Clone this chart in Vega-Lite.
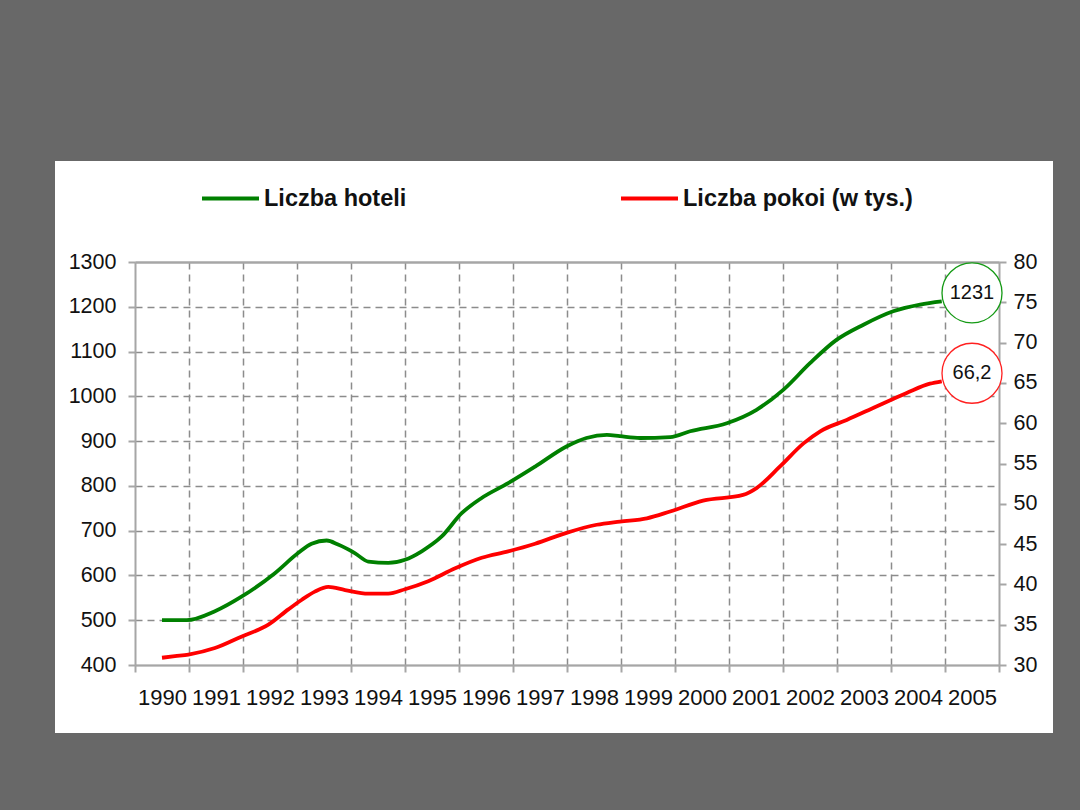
{
  "$schema": "https://vega.github.io/schema/vega-lite/v6.json",
  "width": 998,
  "height": 572,
  "autosize": {"type": "none"},
  "padding": {"left": 55, "top": 161, "right": 27, "bottom": 77},
  "background": "#686868",
  "config": {
    "view": {"fill": "white", "stroke": null},
    "font": "Liberation Sans"
  },
  "datasets": {
    "hotele": [
      {"rok": 1990.0, "wartosc": 500, "seria": "Liczba hoteli"},
      {"rok": 1990.46, "wartosc": 500, "seria": "Liczba hoteli"},
      {"rok": 1990.98, "wartosc": 520, "seria": "Liczba hoteli"},
      {"rok": 1991.48, "wartosc": 553, "seria": "Liczba hoteli"},
      {"rok": 1992.09, "wartosc": 605, "seria": "Liczba hoteli"},
      {"rok": 1992.52, "wartosc": 650, "seria": "Liczba hoteli"},
      {"rok": 1992.77, "wartosc": 671, "seria": "Liczba hoteli"},
      {"rok": 1993.05, "wartosc": 678, "seria": "Liczba hoteli"},
      {"rok": 1993.26, "wartosc": 669, "seria": "Liczba hoteli"},
      {"rok": 1993.57, "wartosc": 650, "seria": "Liczba hoteli"},
      {"rok": 1993.82, "wartosc": 631, "seria": "Liczba hoteli"},
      {"rok": 1994.19, "wartosc": 628, "seria": "Liczba hoteli"},
      {"rok": 1994.5, "wartosc": 635, "seria": "Liczba hoteli"},
      {"rok": 1994.81, "wartosc": 654, "seria": "Liczba hoteli"},
      {"rok": 1995.18, "wartosc": 687, "seria": "Liczba hoteli"},
      {"rok": 1995.55, "wartosc": 739, "seria": "Liczba hoteli"},
      {"rok": 1995.92, "wartosc": 773, "seria": "Liczba hoteli"},
      {"rok": 1996.41, "wartosc": 806, "seria": "Liczba hoteli"},
      {"rok": 1996.91, "wartosc": 843, "seria": "Liczba hoteli"},
      {"rok": 1997.49, "wartosc": 888, "seria": "Liczba hoteli"},
      {"rok": 1997.86, "wartosc": 907, "seria": "Liczba hoteli"},
      {"rok": 1998.24, "wartosc": 914, "seria": "Liczba hoteli"},
      {"rok": 1998.48, "wartosc": 911, "seria": "Liczba hoteli"},
      {"rok": 1998.85, "wartosc": 907, "seria": "Liczba hoteli"},
      {"rok": 1999.41, "wartosc": 909, "seria": "Liczba hoteli"},
      {"rok": 1999.78, "wartosc": 922, "seria": "Liczba hoteli"},
      {"rok": 2000.46, "wartosc": 940, "seria": "Liczba hoteli"},
      {"rok": 2001.01, "wartosc": 970, "seria": "Liczba hoteli"},
      {"rok": 2001.51, "wartosc": 1015, "seria": "Liczba hoteli"},
      {"rok": 2002.0, "wartosc": 1074, "seria": "Liczba hoteli"},
      {"rok": 2002.49, "wartosc": 1126, "seria": "Liczba hoteli"},
      {"rok": 2002.99, "wartosc": 1160, "seria": "Liczba hoteli"},
      {"rok": 2003.54, "wartosc": 1190, "seria": "Liczba hoteli"},
      {"rok": 2004.04, "wartosc": 1205, "seria": "Liczba hoteli"},
      {"rok": 2004.44, "wartosc": 1212, "seria": "Liczba hoteli"}
    ],
    "pokoje": [
      {"rok": 1990.0, "wartosc": 30.9, "seria": "Liczba pokoi (w tys.)"},
      {"rok": 1990.24, "wartosc": 31.1, "seria": "Liczba pokoi (w tys.)"},
      {"rok": 1990.49, "wartosc": 31.3, "seria": "Liczba pokoi (w tys.)"},
      {"rok": 1990.98, "wartosc": 32.1, "seria": "Liczba pokoi (w tys.)"},
      {"rok": 1991.48, "wartosc": 33.55, "seria": "Liczba pokoi (w tys.)"},
      {"rok": 1991.97, "wartosc": 35.0, "seria": "Liczba pokoi (w tys.)"},
      {"rok": 1992.34, "wartosc": 36.9, "seria": "Liczba pokoi (w tys.)"},
      {"rok": 1992.59, "wartosc": 38.1, "seria": "Liczba pokoi (w tys.)"},
      {"rok": 1992.83, "wartosc": 39.1, "seria": "Liczba pokoi (w tys.)"},
      {"rok": 1993.08, "wartosc": 39.7, "seria": "Liczba pokoi (w tys.)"},
      {"rok": 1993.39, "wartosc": 39.3, "seria": "Liczba pokoi (w tys.)"},
      {"rok": 1993.82, "wartosc": 38.85, "seria": "Liczba pokoi (w tys.)"},
      {"rok": 1994.19, "wartosc": 38.85, "seria": "Liczba pokoi (w tys.)"},
      {"rok": 1994.5, "wartosc": 39.4, "seria": "Liczba pokoi (w tys.)"},
      {"rok": 1994.93, "wartosc": 40.4, "seria": "Liczba pokoi (w tys.)"},
      {"rok": 1995.43, "wartosc": 42.0, "seria": "Liczba pokoi (w tys.)"},
      {"rok": 1995.92, "wartosc": 43.3, "seria": "Liczba pokoi (w tys.)"},
      {"rok": 1996.41, "wartosc": 44.1, "seria": "Liczba pokoi (w tys.)"},
      {"rok": 1996.91, "wartosc": 45.05, "seria": "Liczba pokoi (w tys.)"},
      {"rok": 1997.49, "wartosc": 46.4, "seria": "Liczba pokoi (w tys.)"},
      {"rok": 1998.05, "wartosc": 47.4, "seria": "Liczba pokoi (w tys.)"},
      {"rok": 1998.48, "wartosc": 47.8, "seria": "Liczba pokoi (w tys.)"},
      {"rok": 1998.98, "wartosc": 48.2, "seria": "Liczba pokoi (w tys.)"},
      {"rok": 1999.41, "wartosc": 49.05, "seria": "Liczba pokoi (w tys.)"},
      {"rok": 2000.02, "wartosc": 50.4, "seria": "Liczba pokoi (w tys.)"},
      {"rok": 2000.76, "wartosc": 51.1, "seria": "Liczba pokoi (w tys.)"},
      {"rok": 2001.01, "wartosc": 51.95, "seria": "Liczba pokoi (w tys.)"},
      {"rok": 2001.44, "wartosc": 54.6, "seria": "Liczba pokoi (w tys.)"},
      {"rok": 2001.88, "wartosc": 57.5, "seria": "Liczba pokoi (w tys.)"},
      {"rok": 2002.19, "wartosc": 59.0, "seria": "Liczba pokoi (w tys.)"},
      {"rok": 2002.68, "wartosc": 60.4, "seria": "Liczba pokoi (w tys.)"},
      {"rok": 2003.24, "wartosc": 62.1, "seria": "Liczba pokoi (w tys.)"},
      {"rok": 2003.79, "wartosc": 63.75, "seria": "Liczba pokoi (w tys.)"},
      {"rok": 2004.22, "wartosc": 64.9, "seria": "Liczba pokoi (w tys.)"},
      {"rok": 2004.44, "wartosc": 65.2, "seria": "Liczba pokoi (w tys.)"}
    ],
    "etykiety": [
      {"rok": 2005, "wartosc": 1231, "etykieta": "1231", "seria": "Liczba hoteli"},
      {"rok": 2005, "wartosc": 66.2, "etykieta": "66,2", "seria": "Liczba pokoi (w tys.)"}
    ]
  },
  "layer": [
    {
      "layer": [
        {
          "data": {"name": "hotele"},
          "mark": {"type": "line", "interpolate": "monotone", "strokeWidth": 3.8},
          "encoding": {
            "x": {
              "field": "rok", "type": "quantitative",
              "scale": {"domain": [1989.5, 2005.5], "range": [80, 944], "nice": false, "zero": false},
              "axis": {
                "title": null, "orient": "top", "offset": -101,
                "values": [1990.5, 1991.5, 1992.5, 1993.5, 1994.5, 1995.5, 1996.5, 1997.5, 1998.5, 1999.5, 2000.5, 2001.5, 2002.5, 2003.5, 2004.5],
                "grid": true, "gridDash": [7, 5], "gridColor": "#8c8c8c", "gridWidth": 1.5,
                "domainColor": "#a6a6a6", "domainWidth": 2,
                "ticks": false, "labels": false
              }
            },
            "y": {
              "field": "wartosc", "type": "quantitative",
              "scale": {"domain": [400, 1300], "range": [504, 101], "nice": false, "zero": false},
              "axis": {
                "title": null, "orient": "left", "offset": -80, "format": "d",
                "values": [400, 500, 600, 700, 800, 900, 1000, 1100, 1200, 1300],
                "grid": true,
                "gridDash": {"condition": {"test": "datum.value === 1300 || datum.value === 400", "value": []}, "value": [7, 5]},
                "gridColor": {"condition": {"test": "datum.value === 1300 || datum.value === 400", "value": "#a6a6a6"}, "value": "#8c8c8c"},
                "gridWidth": {"condition": {"test": "datum.value === 1300", "value": 2}, "value": 1.5},
                "domainColor": "#a6a6a6", "domainWidth": 2,
                "tickColor": "#a6a6a6", "tickWidth": 2, "tickSize": 7,
                "labelFlush": false, "labelOverlap": false,
                "labelFont": "Liberation Sans", "labelFontSize": 21.5, "labelColor": "#111111", "labelPadding": 12
              }
            },
            "color": {
              "field": "seria", "type": "nominal",
              "scale": {"domain": ["Liczba hoteli", "Liczba pokoi (w tys.)"], "range": ["#008000", "#ff0000"]},
              "legend": {
                "title": null, "orient": "none", "legendX": 145, "legendY": 7,
                "direction": "horizontal", "padding": 0,
                "symbolType": "stroke", "symbolSize": 3249, "symbolStrokeWidth": 3.8,
                "labelFont": "Liberation Sans", "labelFontSize": 23.5, "labelFontWeight": "bold",
                "labelColor": "#111111", "labelLimit": 400, "labelOffset": 3,
                "columnPadding": 206, "gridAlign": "none"
              }
            }
          }
        },
        {
          "data": {"name": "etykiety"},
          "transform": [{"filter": "datum.seria === 'Liczba hoteli'"}],
          "mark": {"type": "point", "shape": "circle", "size": 3600, "filled": true, "fill": "white", "stroke": "#159a15", "strokeWidth": 1.3, "opacity": 1},
          "encoding": {
            "x": {"field": "rok", "type": "quantitative"},
            "y": {"field": "wartosc", "type": "quantitative"}
          }
        },
        {
          "data": {"name": "etykiety"},
          "transform": [{"filter": "datum.seria === 'Liczba hoteli'"}],
          "mark": {"type": "text", "font": "Liberation Sans", "fontSize": 20, "color": "#111111", "align": "center", "baseline": "middle"},
          "encoding": {
            "x": {"field": "rok", "type": "quantitative"},
            "y": {"field": "wartosc", "type": "quantitative"},
            "text": {"field": "etykieta"}
          }
        }
      ]
    },
    {
      "layer": [
        {
          "data": {"name": "pokoje"},
          "mark": {"type": "line", "interpolate": "monotone", "strokeWidth": 3.8},
          "encoding": {
            "x": {
              "field": "rok", "type": "quantitative",
              "axis": {
                "title": null, "orient": "bottom", "offset": -68,
                "values": [1989.5, 1990.5, 1991.5, 1992.5, 1993.5, 1994.5, 1995.5, 1996.5, 1997.5, 1998.5, 1999.5, 2000.5, 2001.5, 2002.5, 2003.5, 2004.5, 2005.5],
                "grid": false,
                "domainColor": "#a6a6a6", "domainWidth": 2,
                "tickColor": "#a6a6a6", "tickWidth": 2, "tickSize": 7,
                "labelExpr": "datum.value < 2005 ? format(datum.value + 0.5, 'd') : ''",
                "labelOffset": 27, "labelFlush": false, "labelOverlap": false, "labelBound": false,
                "labelFont": "Liberation Sans", "labelFontSize": 22, "labelColor": "#111111", "labelPadding": 15
              }
            },
            "y": {
              "field": "wartosc", "type": "quantitative",
              "scale": {"domain": [30, 80], "range": [504, 101], "nice": false, "zero": false},
              "axis": {
                "title": null, "orient": "right", "offset": -54,
                "values": [30, 35, 40, 45, 50, 55, 60, 65, 70, 75, 80],
                "grid": false,
                "domainColor": "#a6a6a6", "domainWidth": 2,
                "tickColor": "#a6a6a6", "tickWidth": 2, "tickSize": 7,
                "labelFlush": false, "labelOverlap": false,
                "labelFont": "Liberation Sans", "labelFontSize": 21.5, "labelColor": "#111111", "labelPadding": 7
              }
            },
            "color": {"field": "seria", "type": "nominal", "legend": null}
          }
        },
        {
          "data": {"name": "etykiety"},
          "transform": [{"filter": "datum.seria === 'Liczba pokoi (w tys.)'"}],
          "mark": {"type": "point", "shape": "circle", "size": 3600, "filled": true, "fill": "white", "stroke": "#ff2020", "strokeWidth": 1.3, "opacity": 1},
          "encoding": {
            "x": {"field": "rok", "type": "quantitative"},
            "y": {"field": "wartosc", "type": "quantitative"}
          }
        },
        {
          "data": {"name": "etykiety"},
          "transform": [{"filter": "datum.seria === 'Liczba pokoi (w tys.)'"}],
          "mark": {"type": "text", "font": "Liberation Sans", "fontSize": 20, "color": "#111111", "align": "center", "baseline": "middle"},
          "encoding": {
            "x": {"field": "rok", "type": "quantitative"},
            "y": {"field": "wartosc", "type": "quantitative"},
            "text": {"field": "etykieta"}
          }
        }
      ]
    }
  ],
  "resolve": {"scale": {"y": "independent"}, "axis": {"x": "independent", "y": "independent"}}
}
